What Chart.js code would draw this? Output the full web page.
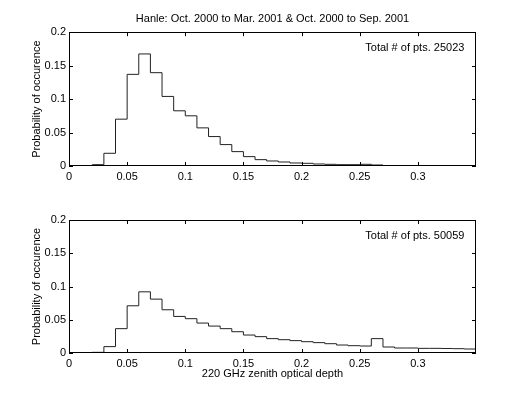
<!DOCTYPE html>
<html lang="en">
<head>
    <meta charset="UTF-8">
    <title>Hanle 220 GHz optical depth</title>
    <style>
        body {
            margin: 0;
            background: white;
        }
        #wrap {
            position: relative;
            width: 529px;
            height: 396px;
        }
        canvas {
            position: absolute;
            left: 0;
        }
        #topChart { top: 0; }
        #bottomChart { top: 198px; }
    </style>
    <script src="https://cdn.jsdelivr.net/npm/chart.js"></script>
</head>
<body>
    <div id="wrap">
        <canvas id="topChart" width="529" height="198"></canvas>
        <canvas id="bottomChart" width="529" height="198"></canvas>
    </div>

    <script>
        // histogram bins, 0.01 wide, first bin starts at 0.01
        const binWidth = 0.01;
        const firstEdge = 0.01;

        // Oct. 2000 to Mar. 2001
        const probTop = [0.0005, 0.002, 0.019, 0.07, 0.137, 0.1675, 0.1395, 0.104, 0.0825, 0.075,
                         0.057, 0.044, 0.032, 0.0215, 0.014, 0.0095, 0.0075, 0.006, 0.0045, 0.004,
                         0.003, 0.0025, 0.002, 0.002, 0.0025, 0.0015];
        // Oct. 2000 to Sep. 2001
        const probBottom = [0.0003, 0.001, 0.0096, 0.0366, 0.071, 0.092, 0.081, 0.065, 0.055, 0.0516,
                            0.045, 0.0405, 0.0366, 0.032, 0.027, 0.0246, 0.0216, 0.020, 0.0186, 0.017,
                            0.0156, 0.014, 0.012, 0.011, 0.0105, 0.0216, 0.009, 0.0075, 0.0075, 0.007,
                            0.007, 0.0068, 0.0065, 0.006];

        const totalTop = 25023;
        const totalBottom = 50059;

        const xTicks = [0, 0.05, 0.1, 0.15, 0.2, 0.25, 0.3];
        const xTickLabels = ["0", "0.05", "0.1", "0.15", "0.2", "0.25", "0.3"];
        const yTicks = [0, 0.05, 0.1, 0.15, 0.2];
        const yTickLabels = ["0", "0.05", "0.1", "0.15", "0.2"];
        const xMax = 0.35;
        const yMax = 0.2;

        // where the "Total # of pts." note sits, in data units
        const noteX = 0.34;
        const noteY = 0.176;

        const FONT = "'Liberation Sans', Arial, Helvetica, sans-serif";

        function toSteps(values) {
            const pts = values.map((v, i) => ({ x: firstEdge + i * binWidth, y: v }));
            pts.push({ x: firstEdge + values.length * binWidth, y: values[values.length - 1] });
            return pts;
        }

        // box around the axes with inward ticks on all four sides, like matlab
        const framePlugin = {
            id: 'frame',
            afterDatasetsDraw(chart) {
                const { ctx, chartArea: a, scales: { x, y } } = chart;
                const len = 4;
                ctx.save();
                ctx.strokeStyle = '#000';
                ctx.lineWidth = 1;
                ctx.strokeRect(Math.round(a.left) + 0.5, Math.round(a.top) + 0.5,
                               Math.round(a.width) - 1, Math.round(a.height) - 1);
                ctx.beginPath();
                x.ticks.forEach(t => {
                    const px = Math.round(x.getPixelForValue(t.value)) + 0.5;
                    ctx.moveTo(px, a.bottom); ctx.lineTo(px, a.bottom - len);
                    ctx.moveTo(px, a.top); ctx.lineTo(px, a.top + len);
                });
                y.ticks.forEach(t => {
                    const py = Math.round(y.getPixelForValue(t.value)) + 0.5;
                    ctx.moveTo(a.left, py); ctx.lineTo(a.left + len, py);
                    ctx.moveTo(a.right, py); ctx.lineTo(a.right - len, py);
                });
                ctx.stroke();

                // note text
                const n = chart.options.plugins.frame.note;
                ctx.fillStyle = '#000';
                ctx.font = '11px ' + FONT;
                ctx.textAlign = 'right';
                ctx.textBaseline = 'middle';
                ctx.fillText(n, x.getPixelForValue(noteX), y.getPixelForValue(noteY));
                ctx.restore();
            }
        };

        function makeChart(id, values, total, opts) {
            const ctx = document.getElementById(id).getContext('2d');
            return new Chart(ctx, {
                type: 'line',
                data: {
                    datasets: [{
                        data: toSteps(values),
                        stepped: true,
                        borderColor: '#222',
                        borderWidth: 1,
                        pointRadius: 0,
                        fill: false
                    }]
                },
                options: {
                    responsive: false,
                    devicePixelRatio: 1,
                    animation: false,
                    layout: { padding: { left: 0, right: 53, top: opts.padTop, bottom: 0 } },
                    plugins: {
                        legend: { display: false },
                        tooltip: { enabled: false },
                        title: {
                            display: !!opts.title,
                            text: opts.title || '',
                            fullSize: false,
                            color: '#000',
                            font: { family: FONT, size: 11, weight: 'normal' },
                            padding: { top: 12, bottom: 7 }
                        },
                        frame: { note: 'Total # of pts. ' + total }
                    },
                    scales: {
                        x: {
                            type: 'linear',
                            min: 0,
                            max: xMax,
                            afterBuildTicks: s => { s.ticks = xTicks.map(v => ({ value: v })); },
                            afterFit: s => { s.height = opts.xHeight; },
                            grid: { display: false, drawTicks: false },
                            border: { display: false },
                            ticks: {
                                color: '#000',
                                padding: 4,
                                maxRotation: 0,
                                font: { family: FONT, size: 11 },
                                callback: (v, i) => xTickLabels[i]
                            },
                            title: {
                                display: !!opts.xTitle,
                                text: opts.xTitle || '',
                                color: '#000',
                                font: { family: FONT, size: 11 },
                                padding: { top: 0, bottom: 15 }
                            }
                        },
                        y: {
                            min: 0,
                            max: yMax,
                            afterBuildTicks: s => { s.ticks = yTicks.map(v => ({ value: v })); },
                            afterFit: s => { s.width = 69; },
                            grid: { display: false, drawTicks: false },
                            border: { display: false },
                            ticks: {
                                color: '#000',
                                padding: 3,
                                font: { family: FONT, size: 11 },
                                callback: (v, i) => yTickLabels[i]
                            },
                            title: {
                                display: true,
                                text: 'Probability of occurence',
                                color: '#000',
                                font: { family: FONT, size: 11 },
                                padding: { top: 30, bottom: 0 }
                            }
                        }
                    }
                },
                plugins: [framePlugin]
            });
        }

        makeChart('topChart', probTop, totalTop, {
            title: 'Hanle: Oct. 2000 to Mar. 2001 & Oct. 2000 to Sep. 2001',
            padTop: 0,
            xHeight: 32
        });
        makeChart('bottomChart', probBottom, totalBottom, {
            xTitle: '220 GHz zenith optical depth',
            padTop: 22,
            xHeight: 43
        });
    </script>
</body>
</html>
